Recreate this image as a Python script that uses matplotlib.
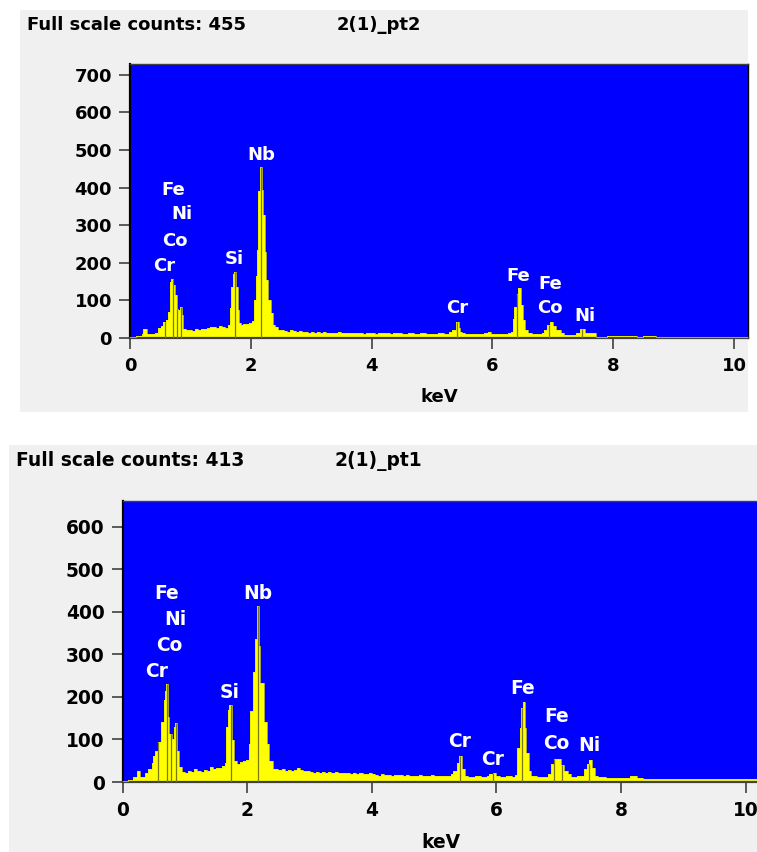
import numpy as np
import matplotlib
matplotlib.use("Agg")
import matplotlib.pyplot as plt
from matplotlib.patches import Rectangle

# ---------------- data ----------------
# pt2 (top): channel start energies (keV) and counts in each channel
energy_pt2 = [0.00, 0.10, 0.20, 0.22, 0.28, 0.35, 0.42, 0.47, 0.52, 0.55, 0.60, 0.63, 0.66, 0.68,
              0.72, 0.74, 0.77, 0.80, 0.82, 0.86, 0.88, 0.92, 0.97, 1.02, 1.07, 1.12, 1.17, 1.22,
              1.27, 1.32, 1.37, 1.42, 1.47, 1.52, 1.57, 1.62, 1.66, 1.68, 1.70, 1.72, 1.76, 1.78,
              1.80, 1.83, 1.87, 1.92, 1.97, 2.02, 2.05, 2.08, 2.10, 2.12, 2.15, 2.18, 2.20, 2.23,
              2.25, 2.29, 2.33, 2.37, 2.40, 2.45, 2.50, 2.55, 2.60, 2.65, 2.70, 2.75, 2.80, 2.85,
              2.90, 2.95, 3.00, 3.05, 3.10, 3.15, 3.20, 3.25, 3.30, 3.35, 3.40, 3.45, 3.50, 3.55,
              3.60, 3.65, 3.70, 3.75, 3.80, 3.85, 3.90, 3.95, 4.00, 4.05, 4.10, 4.20, 4.30, 4.35,
              4.40, 4.50, 4.60, 4.70, 4.80, 4.90, 5.00, 5.10, 5.20, 5.28, 5.33, 5.39, 5.44, 5.47,
              5.50, 5.55, 5.60, 5.70, 5.80, 5.86, 5.92, 5.98, 6.05, 6.15, 6.25, 6.30, 6.34, 6.36,
              6.40, 6.42, 6.47, 6.50, 6.54, 6.58, 6.65, 6.75, 6.82, 6.86, 6.90, 6.95, 7.00, 7.05,
              7.13, 7.19, 7.25, 7.32, 7.39, 7.45, 7.54, 7.72, 7.90, 8.00, 8.10, 8.20, 8.40, 8.50,
              8.70, 8.90, 9.10, 9.30, 9.50, 9.70, 9.90, 10.10]
counts_pt2 = [2, 4, 10, 24, 10, 11, 13, 26, 32, 43, 48, 70, 150, 157,
              140, 114, 76, 74, 83, 60, 24, 20, 22, 19, 23, 22, 25, 24,
              27, 30, 28, 26, 31, 30, 26, 35, 80, 136, 170, 176, 136, 74,
              40, 34, 38, 36, 40, 45, 100, 165, 235, 390, 455, 393, 327, 230,
              154, 101, 66, 35, 28, 22, 20, 18, 17, 22, 19, 16, 18, 15,
              17, 14, 16, 14, 15, 13, 15, 14, 12, 14, 13, 15, 12, 14,
              13, 12, 14, 12, 13, 11, 13, 12, 12, 11, 13, 12, 11, 13,
              12, 11, 12, 10, 12, 11, 10, 12, 11, 16, 22, 43, 27, 16,
              12, 10, 11, 10, 11, 14, 15, 11, 10, 11, 12, 16, 50, 83,
              118, 132, 88, 48, 21, 12, 10, 11, 14, 21, 35, 43, 33, 21,
              14, 9, 8, 9, 12, 24, 12, 3, 5, 4, 5, 4, 3, 4,
              3, 2, 3, 2, 3, 2, 3, 2]

# pt1 (bottom)
energy_pt1 = [0.00, 0.08, 0.17, 0.23, 0.28, 0.36, 0.41, 0.47, 0.49, 0.52, 0.57, 0.62, 0.66, 0.68,
              0.70, 0.73, 0.75, 0.79, 0.82, 0.84, 0.87, 0.91, 0.95, 1.00, 1.05, 1.10, 1.15, 1.20,
              1.25, 1.30, 1.35, 1.40, 1.45, 1.50, 1.55, 1.60, 1.64, 1.66, 1.69, 1.71, 1.75, 1.78,
              1.83, 1.88, 1.93, 1.98, 2.02, 2.05, 2.09, 2.13, 2.16, 2.19, 2.21, 2.27, 2.31, 2.35,
              2.41, 2.50, 2.55, 2.60, 2.65, 2.70, 2.75, 2.80, 2.85, 2.90, 2.95, 3.00, 3.05, 3.10,
              3.15, 3.20, 3.25, 3.30, 3.35, 3.40, 3.45, 3.50, 3.55, 3.60, 3.65, 3.70, 3.75, 3.80,
              3.85, 3.90, 3.95, 4.00, 4.05, 4.10, 4.15, 4.20, 4.30, 4.35, 4.40, 4.50, 4.55, 4.60,
              4.70, 4.75, 4.80, 4.90, 4.95, 5.00, 5.10, 5.20, 5.27, 5.31, 5.36, 5.40, 5.45, 5.49,
              5.55, 5.65, 5.75, 5.85, 5.88, 5.94, 5.99, 6.05, 6.15, 6.25, 6.29, 6.33, 6.37, 6.40,
              6.42, 6.45, 6.48, 6.52, 6.55, 6.65, 6.75, 6.82, 6.87, 6.93, 7.03, 7.08, 7.14, 7.19,
              7.30, 7.36, 7.40, 7.45, 7.49, 7.53, 7.58, 7.63, 7.75, 7.85, 7.95, 8.05, 8.15, 8.25,
              8.35, 8.50, 8.60, 8.80, 9.00, 9.20, 9.40, 9.60, 9.80, 10.00, 10.10]
counts_pt1 = [2, 4, 12, 25, 12, 22, 30, 44, 62, 74, 94, 140, 192, 215,
              230, 152, 114, 102, 130, 138, 74, 35, 24, 22, 25, 23, 30, 26,
              24, 28, 26, 35, 30, 34, 33, 38, 45, 129, 170, 180, 98, 50,
              42, 48, 50, 52, 90, 168, 258, 337, 413, 319, 232, 141, 90, 50,
              30, 28, 30, 27, 29, 26, 28, 32, 28, 26, 25, 24, 22, 24,
              21, 23, 22, 24, 21, 23, 20, 22, 20, 22, 19, 21, 18, 20,
              19, 18, 20, 18, 17, 15, 18, 16, 15, 17, 16, 14, 16, 15,
              14, 16, 15, 14, 17, 14, 15, 14, 18, 26, 45, 61, 30, 14,
              12, 13, 11, 13, 18, 20, 13, 12, 13, 12, 16, 81, 128, 175,
              189, 128, 69, 26, 14, 12, 11, 18, 42, 55, 40, 26, 18, 12,
              13, 14, 30, 42, 52, 33, 14, 11, 10, 9, 10, 9, 13, 9,
              7, 8, 7, 8, 6, 8, 7, 6, 7, 8, 6]
energy_end = 10.23

# element line markers (keV)
lines_pt2 = [0.573, 0.705, 0.776, 0.851, 1.740, 2.166, 5.415, 6.404, 6.930, 7.478]
lines_pt1 = [0.573, 0.705, 0.776, 0.851, 1.740, 2.166, 5.415, 5.947, 6.404, 6.930, 7.058, 7.478]

# peak labels: (text, energy, counts)
labels_pt2 = [("Fe", 0.71, 394), ("Ni", 0.86, 330), ("Co", 0.75, 259), ("Cr", 0.56, 191),
              ("Si", 1.72, 210), ("Nb", 2.18, 487), ("Cr", 5.42, 79), ("Fe", 6.43, 165),
              ("Fe", 6.95, 145), ("Co", 6.95, 79), ("Ni", 7.53, 58)]
labels_pt1 = [("Fe", 0.70, 444), ("Ni", 0.84, 383), ("Co", 0.755, 322), ("Cr", 0.55, 260),
              ("Si", 1.72, 210), ("Nb", 2.17, 444), ("Cr", 5.41, 95), ("Cr", 5.94, 52),
              ("Fe", 6.42, 220), ("Fe", 6.96, 154), ("Co", 6.96, 91), ("Ni", 7.49, 87)]

full_scale_pt2 = 455
full_scale_pt1 = 413
yticks_pt2 = [0, 100, 200, 300, 400, 500, 600, 700]
yticks_pt1 = [0, 100, 200, 300, 400, 500, 600]
xticks = [0, 2, 4, 6, 8, 10]

# ---------------- figure ----------------
W, H = 757, 852
fig = plt.figure(figsize=(W / 100, H / 100), dpi=100)
fig.patch.set_facecolor("white")
plt.rcParams["font.family"] = ["DejaVu Sans"]


def px_rect(x0, y0, x1, y1):
    return [x0 / W, 1 - y1 / H, (x1 - x0) / W, (y1 - y0) / H]


def draw_panel(axrect, bgrect, energies, counts, lines, labels, ymax, yticks,
               title, name, title_x, name_x, title_y, fs):
    bx, by, bw, bh = bgrect
    fig.patches.append(Rectangle((bx, by), bw, bh, transform=fig.transFigure,
                                 facecolor="#f0f0f0", edgecolor="none", zorder=-10))
    ax = fig.add_axes(axrect)
    ax.set_zorder(1)
    ax.set_facecolor("#0000ff")
    edges = list(energies) + [energy_end]
    ax.stairs(counts, edges, fill=True, color="#ffff00", zorder=2)
    ax.stairs(counts, edges, fill=False, color="#e6e600", lw=0.5, zorder=3)
    e_arr = np.asarray(energies)
    c_arr = np.asarray(counts)
    for e in lines:
        i = np.searchsorted(e_arr, e, side="right") - 1
        ax.vlines(e, 0, c_arr[i], color="#7a7a10", lw=0.9, zorder=4)
    for t, e, c in labels:
        ax.text(e, c, t, color="white", fontsize=fs, fontweight="bold",
                ha="center", va="center", zorder=5)
    ax.set_xlim(0, energy_end)
    ax.set_ylim(0, ymax)
    ax.set_xticks(xticks)
    ax.set_yticks(yticks)
    ax.tick_params(axis="both", direction="out", length=8, width=1.2, color="#404040",
                   labelsize=fs)
    ax.tick_params(axis="y", pad=5)
    ax.tick_params(axis="x", pad=6)
    for lab in ax.get_xticklabels() + ax.get_yticklabels():
        lab.set_fontweight("bold")
    ax.spines["left"].set_color("black")
    ax.spines["left"].set_linewidth(1.6)
    ax.spines["bottom"].set_color("#404040")
    ax.spines["bottom"].set_linewidth(1.6)
    ax.spines["top"].set_color("#404040")
    ax.spines["top"].set_linewidth(1.0)
    ax.spines["right"].set_color("black")
    ax.spines["right"].set_linewidth(1.0)
    ax.set_xlabel("keV", fontsize=fs, fontweight="bold", labelpad=9)
    fig.text(title_x / W, 1 - title_y / H, title, fontsize=fs, fontweight="bold",
             ha="left", va="center")
    fig.text(name_x / W, 1 - title_y / H, name, fontsize=fs, fontweight="bold",
             ha="left", va="center")
    return ax


# top panel
draw_panel(px_rect(130, 64, 748, 338),
           (20 / W, 1 - 412 / H, 728 / W, 402 / H),
           energy_pt2, counts_pt2, lines_pt2, labels_pt2, 729, yticks_pt2,
           f"Full scale counts: {full_scale_pt2}", "2(1)_pt2", 27, 337, 25, 13)

# bottom panel
draw_panel(px_rect(122.7, 501, 760, 782),
           (9 / W, 0, 1 - 9 / W, 407 / H),
           energy_pt1, counts_pt1, lines_pt1, labels_pt1, 661, yticks_pt1,
           f"Full scale counts: {full_scale_pt1}", "2(1)_pt1", 16, 335, 461, 13.4)

fig.savefig("out.png", dpi=100, facecolor="white")
